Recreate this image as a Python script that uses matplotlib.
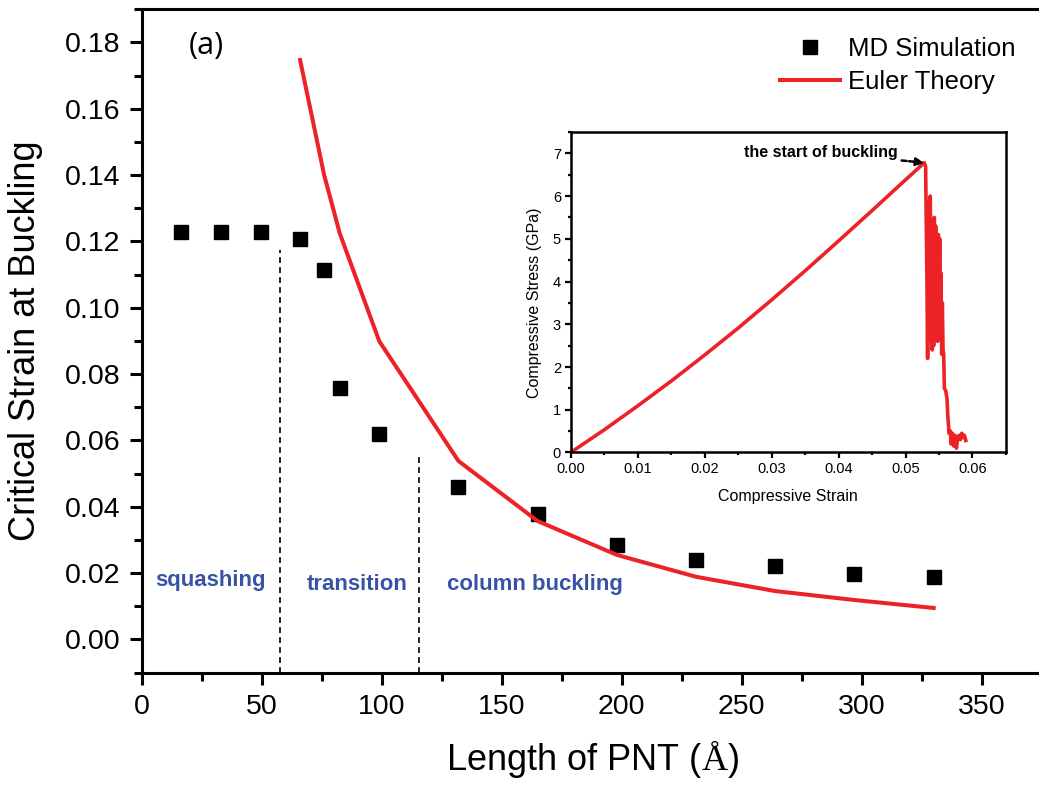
import numpy as np
import matplotlib
matplotlib.use('Agg')
import matplotlib.pyplot as plt
from matplotlib.ticker import MultipleLocator

plt.rcParams['font.family'] = ['Liberation Sans', 'DejaVu Sans']
plt.rcParams['mathtext.fontset'] = 'custom'
plt.rcParams['mathtext.rm'] = 'Liberation Serif'

# main panel data
md_length = [16.5, 33, 49.5, 66, 76, 82.5, 99, 132, 165, 198, 231, 264, 297, 330]
md_strain = [0.1230, 0.1230, 0.1230, 0.1206, 0.1113, 0.0757, 0.0621, 0.0459,
             0.0378, 0.0285, 0.0240, 0.0221, 0.0198, 0.0189]

euler_length = [66, 76, 82.5, 99, 132, 165, 198, 231, 264, 297, 330]
euler_strain = [0.1747, 0.1401, 0.1225, 0.0899, 0.0538, 0.0357, 0.0255,
                0.0189, 0.0146, 0.0119, 0.0095]

# regime boundaries (dashed lines) and labels
boundary_x = [57.5, 115.5]
boundary_top = [0.1175, 0.0558]
region_names = ['squashing', 'transition', 'column buckling']
region_x = [28.7, 89.9, 163.7]
region_y = [0.0177, 0.0167, 0.0167]

# inset: stress-strain curve
strain_in = [0.0, 0.005, 0.010, 0.015, 0.020, 0.025, 0.030, 0.035, 0.040,
             0.045, 0.050, 0.0528,
             0.0530, 0.0532, 0.0533, 0.0534, 0.0535, 0.0536, 0.0537, 0.0538,
             0.0539, 0.0540, 0.0541, 0.0542, 0.0543, 0.0544, 0.0545, 0.0546,
             0.0547, 0.0548, 0.0549, 0.0550, 0.0551, 0.0552, 0.0553, 0.0554,
             0.0555, 0.0556, 0.0557, 0.0558, 0.0560, 0.0562, 0.0563, 0.0565,
             0.0567, 0.0568, 0.0570, 0.0572, 0.0574, 0.0576, 0.0578, 0.0580,
             0.0582, 0.0584, 0.0586, 0.0588, 0.0590]
stress_in = [0.0, 0.53, 1.09, 1.67, 2.28, 2.91, 3.57, 4.25, 4.95,
             5.66, 6.38, 6.78,
             6.70, 4.0, 2.2, 5.2, 3.0, 5.9, 6.0, 2.6,
             5.4, 2.4, 4.8, 2.5, 5.5, 3.2, 5.3, 2.8,
             4.6, 2.6, 5.1, 3.0, 5.0, 2.7, 4.2, 2.3,
             3.5, 2.4, 2.3, 1.5, 1.45, 1.25, 0.9, 0.45,
             0.5, 0.2, 0.45, 0.15, 0.4, 0.1, 0.35, 0.4,
             0.3, 0.45, 0.35, 0.4, 0.28]

red = '#ec2227'
blue = '#3953a4'

fig = plt.figure(figsize=(10.39, 7.85), dpi=100)
ax = fig.add_axes([0.1364, 0.1431, 0.8636, 0.8451])

ax.plot(md_length, md_strain, 's', color='black', ms=10, label='MD Simulation')
ax.plot(euler_length, euler_strain, '-', color=red, lw=2.9, label='Euler Theory')
ax.vlines(boundary_x, -0.01, boundary_top, colors='black', linestyles=(0, (3.5, 2.5)), lw=1.2)

for name, x, y in zip(region_names, region_x, region_y):
    ax.text(x, y, name, color=blue, fontsize=16, fontweight='bold', ha='center', va='center')

ax.text(26.8, 0.1789, '(a)', fontsize=22, family=['Open Sans', 'DejaVu Sans'], ha='center', va='center')

ax.set_xlim(0, 373.9)
ax.set_ylim(-0.01, 0.19)
ax.xaxis.set_major_locator(MultipleLocator(50))
ax.xaxis.set_minor_locator(MultipleLocator(25))
ax.yaxis.set_minor_locator(MultipleLocator(0.01))
ax.set_yticks(np.arange(0, 0.181, 0.02))
ax.yaxis.set_major_formatter(plt.FuncFormatter(lambda v, p: '%.2f' % v))
ax.spines['right'].set_visible(False)
for s in ['left', 'bottom', 'top']:
    ax.spines[s].set_linewidth(2.2)
ax.tick_params(which='major', direction='out', length=8.5, width=2.2, labelsize=20.5, pad=7)
ax.tick_params(which='minor', direction='out', length=5.5, width=2.2)
ax.tick_params(top=False, right=False, which='both')

ax.set_xlabel('Length of PNT ($\\mathrm{Å}$)', fontsize=26, va='center')
ax.xaxis.set_label_coords(0.5024, -0.130)
ax.set_ylabel('Critical Strain at Buckling', fontsize=26, va='center')
ax.yaxis.set_label_coords(-0.1300, 0.5)

ax.legend(loc='upper left', bbox_to_anchor=(0.7507, 0.953), bbox_transform=fig.transFigure,
          frameon=False, fontsize=18.5, handlelength=2.33, handletextpad=0.31,
          borderpad=0, borderaxespad=0, labelspacing=0.37)

# inset
axi = fig.add_axes([0.5493, 0.4236, 0.4189, 0.4083])
axi.plot(strain_in, stress_in, '-', color=red, lw=2.6)
axi.set_xlim(0, 0.065)
axi.set_ylim(0, 7.5)
axi.xaxis.set_major_locator(MultipleLocator(0.01))
axi.xaxis.set_minor_locator(MultipleLocator(0.005))
axi.yaxis.set_major_locator(MultipleLocator(1))
axi.yaxis.set_minor_locator(MultipleLocator(0.5))
axi.xaxis.set_major_formatter(plt.FuncFormatter(lambda v, p: '%.2f' % v))
for s in axi.spines.values():
    s.set_linewidth(1.8)
axi.tick_params(which='major', direction='out', length=4, width=1.6, labelsize=10.5, pad=3)
axi.tick_params(which='minor', direction='out', length=2.5, width=1.6)
axi.set_xlabel('Compressive Strain', fontsize=11.5, va='center')
axi.xaxis.set_label_coords(0.5, -0.1385)
axi.set_ylabel('Compressive Stress (GPa)', fontsize=11.5, va='center')
axi.yaxis.set_label_coords(-0.0843, 0.466)

axi.annotate('the start of buckling', xy=(0.0528, 6.78), xytext=(0.0488, 7.02),
             fontsize=11.5, fontweight='bold', ha='right', va='center',
             arrowprops=dict(arrowstyle='-|>', color='black', lw=1.8,
                             linestyle=(0, (2, 1)), shrinkA=1, shrinkB=0,
                             mutation_scale=12))

fig.savefig('out.png', dpi=100)
